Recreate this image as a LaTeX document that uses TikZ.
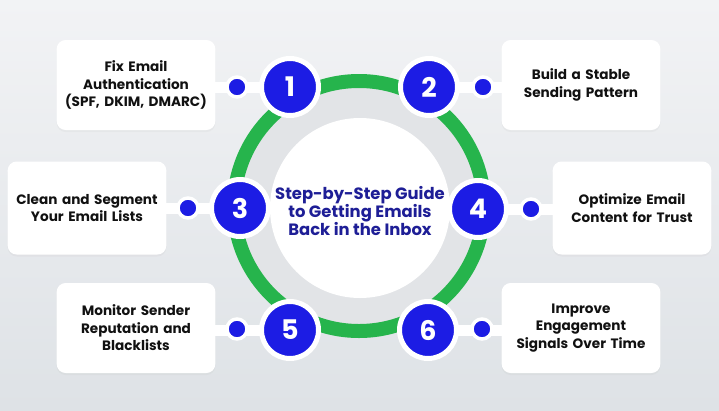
\documentclass[tikz,border=0pt]{standalone}
\usepackage{fontspec}
\setmainfont{Poppins}
\usetikzlibrary{shadows}
\definecolor{stepblue}{RGB}{28,28,228}
\definecolor{ringgreen}{RGB}{38,180,76}
\definecolor{navy}{RGB}{30,30,150}
\definecolor{bgtop}{RGB}{242,243,245}
\definecolor{bgbot}{RGB}{222,226,230}
\definecolor{innergray}{RGB}{226,228,231}
\definecolor{boxtext}{RGB}{17,17,17}
\tikzset{
  stepbox/.style={fill=white, rounded corners=9pt, minimum width=158pt, minimum height=90pt,
    text width=152pt, align=center, text=boxtext,
    font=\bfseries\fontsize{13.6}{17.5}\selectfont,
    drop shadow={opacity=0.06, shadow xshift=0pt, shadow yshift=-2pt}},
  bar/.style={white, line width=11pt},
  numc/.style={circle, fill=stepblue, draw=white, line width=5pt, minimum size=57pt,
    text=white, font=\bfseries\fontsize{27}{27}\selectfont, inner sep=0pt,
    drop shadow={opacity=0.08, shadow xshift=0pt, shadow yshift=-2pt}},
  dotc/.style={circle, fill=stepblue, draw=white, line width=3.5pt, minimum size=20pt, inner sep=0pt},
}
\begin{document}
\begin{tikzpicture}[x=1pt,y=-1pt]
\useasboundingbox (0,0) rectangle (719,410);
\shade[top color=bgtop, bottom color=bgbot] (0,0) rectangle (719,410);

% centre
\coordinate (ctr) at (359,206);
\fill[innergray] (ctr) circle (119);
\draw[ringgreen, line width=14pt] (ctr) circle (125);
\node[circle, fill=white, minimum size=180pt, inner sep=0pt] (hub) at (360,208) {};
\node[align=center, text=navy, font=\bfseries\fontsize{16.4}{18}\selectfont] (title) at (360,211)
  {Step-by-Step Guide\\to Getting Emails\\Back in the Inbox};

% boxes
\node[stepbox] (b1) at (136,85) {Fix Email\\Authentication\\(SPF, DKIM, DMARC)};
\node[stepbox] (b2) at (581,85) {Build a Stable\\Sending Pattern};
\node[stepbox, minimum height=93pt] (b3) at (87,208) {Clean and Segment\\Your Email Lists};
\node[stepbox, minimum height=93pt] (b4) at (632,208) {Optimize Email\\Content for Trust};
\node[stepbox] (b5) at (136,328) {Monitor Sender\\Reputation and\\Blacklists};
\node[stepbox] (b6) at (581,328) {Improve\\Engagement\\Signals Over Time};

% anchor points
\coordinate (c1) at (290,87);
\coordinate (c2) at (429,87);
\coordinate (c3) at (240,208);
\coordinate (c4) at (478,209);
\coordinate (c5) at (290,330);
\coordinate (c6) at (428,330);

% bars
\draw[bar] ([xshift=-4pt]b1.east |- c1) -- (c1);
\draw[bar] ([xshift=4pt]b2.west |- c2) -- (c2);
\draw[bar] ([xshift=-4pt]b3.east |- c3) -- (c3);
\draw[bar] ([xshift=4pt]b4.west |- c4) -- (c4);
\draw[bar] ([xshift=-4pt]b5.east |- c5) -- (c5);
\draw[bar] ([xshift=4pt]b6.west |- c6) -- (c6);

% dots
\node[dotc] (d1) at (237,87) {};
\node[dotc] (d2) at (483,87) {};
\node[dotc] (d3) at (188,208) {};
\node[dotc] (d4) at (531,209) {};
\node[dotc] (d5) at (237,329) {};
\node[dotc] (d6) at (482,329) {};

% number circles
\node[numc] (n1) at (c1) {1};
\node[numc] (n2) at (c2) {2};
\node[numc] (n3) at (c3) {3};
\node[numc] (n4) at (c4) {4};
\node[numc] (n5) at (c5) {5};
\node[numc] (n6) at (c6) {6};
\end{tikzpicture}
\end{document}
